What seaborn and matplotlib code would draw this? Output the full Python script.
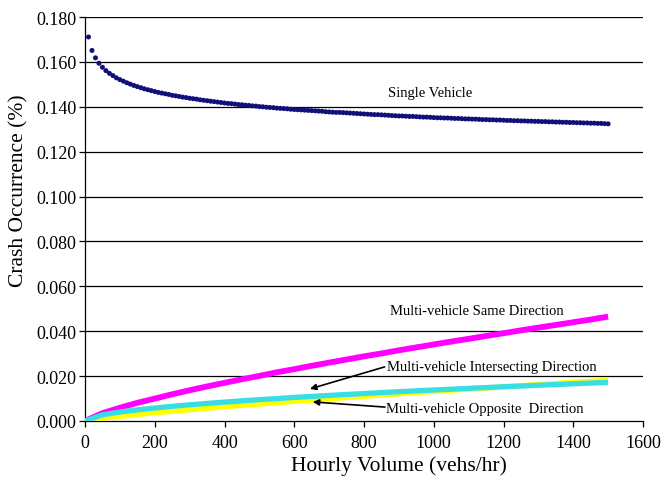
import numpy as np
import pandas as pd
import seaborn as sns
import matplotlib.pyplot as plt

## Data: ========================================================================
# Single vehicle: dots every 10 vehs/hr from 10 to 1500
single_vol = list(range(10, 1501, 10))
single_crash = [
    0.1711, 0.1651, 0.1618, 0.1594, 0.1576, 0.1561, 0.1549, 0.1539, 0.1529, 0.1521,
    0.1514, 0.1507, 0.1501, 0.1495, 0.1490, 0.1485, 0.1480, 0.1476, 0.1472, 0.1468,
    0.1464, 0.1461, 0.1458, 0.1455, 0.1451, 0.1449, 0.1446, 0.1443, 0.1441, 0.1438,
    0.1436, 0.1434, 0.1431, 0.1429, 0.1427, 0.1425, 0.1423, 0.1421, 0.1419, 0.1417,
    0.1415, 0.1414, 0.1412, 0.1410, 0.1409, 0.1407, 0.1406, 0.1404, 0.1403, 0.1401,
    0.1400, 0.1398, 0.1397, 0.1396, 0.1394, 0.1393, 0.1392, 0.1391, 0.1389, 0.1388,
    0.1387, 0.1386, 0.1385, 0.1384, 0.1383, 0.1382, 0.1381, 0.1380, 0.1378, 0.1377,
    0.1376, 0.1375, 0.1375, 0.1374, 0.1373, 0.1372, 0.1371, 0.1370, 0.1369, 0.1368,
    0.1367, 0.1366, 0.1365, 0.1365, 0.1364, 0.1363, 0.1362, 0.1361, 0.1360, 0.1359,
    0.1359, 0.1358, 0.1357, 0.1357, 0.1356, 0.1355, 0.1354, 0.1354, 0.1353, 0.1352,
    0.1351, 0.1351, 0.1350, 0.1350, 0.1349, 0.1348, 0.1348, 0.1347, 0.1346, 0.1346,
    0.1345, 0.1345, 0.1344, 0.1343, 0.1343, 0.1342, 0.1342, 0.1341, 0.1341, 0.1340,
    0.1339, 0.1339, 0.1338, 0.1338, 0.1337, 0.1337, 0.1336, 0.1336, 0.1335, 0.1335,
    0.1334, 0.1334, 0.1333, 0.1333, 0.1332, 0.1332, 0.1331, 0.1331, 0.1330, 0.1330,
    0.1329, 0.1329, 0.1328, 0.1328, 0.1327, 0.1327, 0.1326, 0.1326, 0.1325, 0.1324,
]

# Multi-vehicle series: every 50 vehs/hr from 0 to 1500
multi_vol = list(range(0, 1501, 50))
same_dir = [
    0.0, 0.0035, 0.0059, 0.0081, 0.0100, 0.0119, 0.0137, 0.0154, 0.0170, 0.0186,
    0.0201, 0.0217, 0.0231, 0.0246, 0.0260, 0.0274, 0.0288, 0.0301, 0.0315, 0.0328,
    0.0341, 0.0354, 0.0366, 0.0379, 0.0391, 0.0404, 0.0416, 0.0428, 0.0440, 0.0452,
    0.0465,
]
intersecting_dir = [
    0.0, 0.00274, 0.00399, 0.00496, 0.00579, 0.00653, 0.00721, 0.00784, 0.00842, 0.00898,
    0.00951, 0.01000, 0.01049, 0.01096, 0.01140, 0.01183, 0.01224, 0.01265, 0.01305, 0.01344,
    0.01382, 0.01418, 0.01455, 0.01489, 0.01526, 0.01559, 0.01593, 0.01625, 0.01658, 0.01689,
    0.01720,
]
opposite_dir = [
    0.0, 0.00120, 0.00209, 0.00288, 0.00363, 0.00434, 0.00503, 0.00568, 0.00632, 0.00695,
    0.00756, 0.00816, 0.00875, 0.00932, 0.00989, 0.01046, 0.01101, 0.01156, 0.01209, 0.01262,
    0.01316, 0.01367, 0.01420, 0.01471, 0.01523, 0.01573, 0.01624, 0.01673, 0.01723, 0.01772,
    0.01820,
]

x_ticks = list(range(0, 1601, 200))
y_ticks = [0.000, 0.020, 0.040, 0.060, 0.080, 0.100, 0.120, 0.140, 0.160, 0.180]

single_df = pd.DataFrame({"vol": single_vol, "crash": single_crash})
multi_df = pd.DataFrame({"vol": multi_vol, "same": same_dir,
                         "inter": intersecting_dir, "opp": opposite_dir})

## Plot: ========================================================================
sns.set_theme(style="white")
plt.rcParams["font.family"] = ["Liberation Serif", "DejaVu Serif"]
plt.rcParams["text.color"] = "black"

fig = plt.figure(figsize=(6.63, 4.81), dpi=100)
ax = fig.add_axes([85 / 663, 1 - 422 / 481, 558 / 663, 404 / 481])

for yv in y_ticks[1:]:
    ax.axhline(yv, color="black", lw=0.9, zorder=1)

sns.lineplot(data=multi_df, x="vol", y="same", ax=ax, color="#ff00ff",
             lw=4.2, solid_capstyle="butt", zorder=3)
sns.lineplot(data=multi_df, x="vol", y="opp", ax=ax, color="#ffff00",
             lw=3.8, solid_capstyle="butt", zorder=3)
sns.lineplot(data=multi_df, x="vol", y="inter", ax=ax, color="#38dde6",
             lw=3.8, solid_capstyle="butt", zorder=4)
sns.scatterplot(data=single_df, x="vol", y="crash", ax=ax, color="#10107a",
                s=13, edgecolor="none", zorder=5)

txt_kw = dict(fontsize=10.5, va="center", ha="left", color="black")
ax.text(868, 0.1465, "Single Vehicle", **txt_kw)
ax.text(874, 0.0494, "Multi-vehicle Same Direction", **txt_kw)
ax.text(865, 0.0241, "Multi-vehicle Intersecting Direction", **txt_kw)
ax.text(864, 0.0057, "Multi-vehicle Opposite  Direction", **txt_kw)

arrow_kw = dict(arrowstyle="-|>", color="black", lw=1.2, mutation_scale=9,
                shrinkA=0, shrinkB=0)
ax.annotate("", xy=(645, 0.0143), xytext=(859, 0.0241), arrowprops=arrow_kw, zorder=6)
ax.annotate("", xy=(653, 0.0085), xytext=(860, 0.0062), arrowprops=arrow_kw, zorder=6)

ax.set_xlim(0, 1600)
ax.set_ylim(0, 0.18)
ax.set_xticks(x_ticks)
ax.set_yticks(y_ticks)
ax.set_xticklabels([str(v) for v in x_ticks], fontsize=13)
ax.set_yticklabels(["{:.3f}".format(v) for v in y_ticks], fontsize=13)
ax.tick_params(axis="both", direction="out", length=4, width=0.9,
               color="black", pad=2, labelcolor="black")
ax.tick_params(axis="x", pad=5)
ax.tick_params(axis="both", which="both", bottom=True, left=True)

ax.set_xlabel("Hourly Volume (vehs/hr)", fontsize=15.5, color="black")
ax.set_ylabel("Crash Occurrence (%)", fontsize=15.5, color="black")
ax.xaxis.set_label_coords((399 - 85) / 558, (422 - 456) / 404)
ax.yaxis.set_label_coords((28 - 85) / 558, (422 - 191) / 404)

for side in ["top", "right"]:
    ax.spines[side].set_visible(False)
for side in ["left", "bottom"]:
    ax.spines[side].set_color("black")
    ax.spines[side].set_linewidth(0.9)

fig.savefig("out.png", dpi=100)
plt.close(fig)
